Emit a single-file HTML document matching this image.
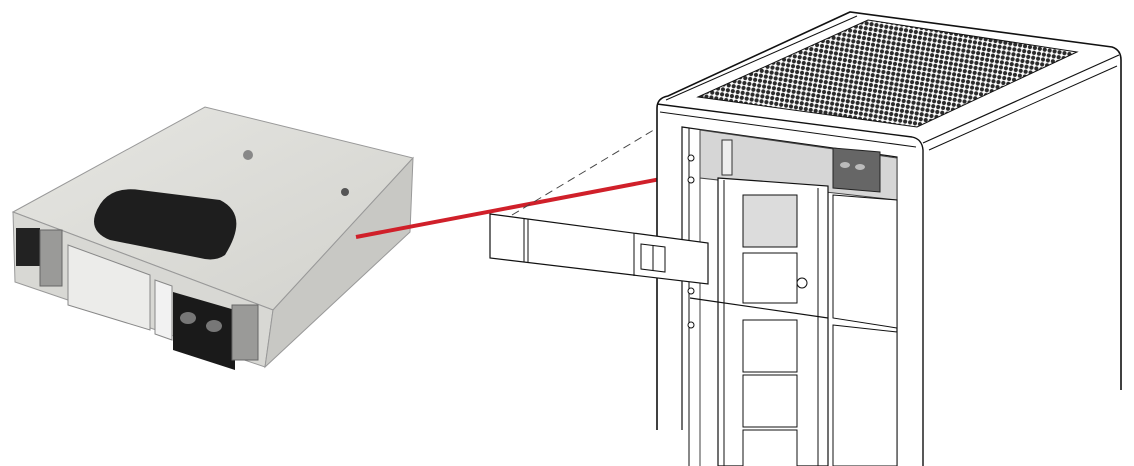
<!DOCTYPE html>
<html><head><meta charset="utf-8"><style>
html,body{margin:0;padding:0;background:#fff;width:1134px;height:466px;overflow:hidden}
</style></head><body>
<svg width="1134" height="466" viewBox="0 0 1134 466" xmlns="http://www.w3.org/2000/svg">
<defs>
<pattern id="grille" width="5" height="5" patternUnits="userSpaceOnUse" patternTransform="rotate(10)">
<rect width="5" height="5" fill="#fff"/><circle cx="2.5" cy="2.5" r="2.1" fill="#2a2a2a"/>
</pattern>
<linearGradient id="topg" x1="0" y1="0" x2="1" y2="1">
<stop offset="0" stop-color="#e6e6e2"/><stop offset="1" stop-color="#d2d2cd"/>
</linearGradient>
</defs>
<!-- LEFT DEVICE -->
<polygon points="13,212 205,107 413,158 273,310" fill="url(#topg)" stroke="#999" stroke-width="1"/>
<polygon points="13,212 273,310 265,367 15,282" fill="#d8d8d4" stroke="#999"/>
<polygon points="273,310 413,158 410,232 265,367" fill="#c8c8c4" stroke="#999"/>
<path d="M95,215 Q105,185 140,190 L220,200 Q250,215 225,255 Q215,262 200,258 L110,240 Q90,232 95,215Z" fill="#1e1e1e"/>
<rect x="16" y="228" width="24" height="38" fill="#222"/>
<rect x="40" y="230" width="22" height="56" fill="#9a9a98" stroke="#666"/>
<polygon points="68,245 150,275 150,330 68,305" fill="#ececea" stroke="#888"/>
<polygon points="155,280 172,286 172,340 155,334" fill="#f2f2f2" stroke="#888"/>
<polygon points="173,292 235,310 235,370 173,350" fill="#1a1a1a"/>
<ellipse cx="188" cy="318" rx="8" ry="6" fill="#777"/>
<ellipse cx="214" cy="326" rx="8" ry="6" fill="#777"/>
<rect x="232" y="305" width="26" height="55" fill="#9a9a98" stroke="#666"/>
<circle cx="248" cy="155" r="5" fill="#888"/>
<circle cx="345" cy="192" r="4" fill="#555"/>
<!-- red connector -->
<line x1="356" y1="237" x2="776" y2="157" stroke="#d0202a" stroke-width="4"/>
<!-- dashed line -->
<line x1="512" y1="215" x2="662" y2="125" stroke="#444" stroke-width="1" stroke-dasharray="8,5"/>
<!-- CABINET -->
<path d="M657,430 L657,108 Q657,98 668,96 L850,12 L1112,47 Q1121,50 1121,60 L1121,390" fill="#fff" stroke="#111" stroke-width="1.6"/>
<path d="M657,104 L912,137 Q922,139 923,150 L923,466" fill="none" stroke="#111" stroke-width="1.4"/>
<line x1="923" y1="143" x2="1119" y2="55" stroke="#111" stroke-width="1.2"/>
<line x1="666" y1="100" x2="857" y2="16" stroke="#111" stroke-width="1"/>
<line x1="660" y1="112" x2="916" y2="147" stroke="#111" stroke-width="1"/>
<line x1="929" y1="150" x2="1117" y2="66" stroke="#111" stroke-width="1"/>
<polygon points="698,97 868,20 1077,52 917,127" fill="url(#grille)" stroke="#111"/>
<!-- opening -->
<path d="M682,430 L682,127 L897,157 L897,466" fill="none" stroke="#111" stroke-width="1.2"/>
<line x1="689" y1="128" x2="689" y2="466" stroke="#111" stroke-width="1"/>
<line x1="700" y1="130" x2="700" y2="466" stroke="#111" stroke-width="0.8"/>
<polygon points="700,130 897,158 897,200 700,178" fill="#d6d6d6" stroke="#444"/>
<polygon points="833,148 880,152 880,192 833,188" fill="#666" stroke="#222"/>
<ellipse cx="845" cy="165" rx="5" ry="3" fill="#bbb"/>
<ellipse cx="860" cy="167" rx="5" ry="3" fill="#bbb"/>
<rect x="722" y="140" width="10" height="35" fill="#eee" stroke="#333"/>
<!-- door -->
<polygon points="718,178 828,186 828,466 718,466" fill="#fff" stroke="#111" stroke-width="1.2"/>
<line x1="724" y1="180" x2="724" y2="466" stroke="#111"/>
<line x1="818" y1="188" x2="818" y2="466" stroke="#111"/>
<rect x="743" y="195" width="54" height="52" fill="#dcdcdc" stroke="#111"/>
<rect x="743" y="253" width="54" height="50" fill="#fff" stroke="#111"/>
<circle cx="802" cy="283" r="5" fill="#fff" stroke="#111"/>
<line x1="690" y1="298" x2="828" y2="318" stroke="#111" stroke-width="1.2"/>
<rect x="743" y="320" width="54" height="52" fill="#fff" stroke="#111"/>
<rect x="743" y="375" width="54" height="52" fill="#fff" stroke="#111"/>
<rect x="743" y="430" width="54" height="40" fill="#fff" stroke="#111"/>
<!-- right panels -->
<polygon points="833,195 897,200 897,328 833,318" fill="#fff" stroke="#111"/>
<polygon points="833,325 897,332 897,466 833,466" fill="#fff" stroke="#111"/>
<circle cx="691" cy="158" r="3" fill="#fff" stroke="#111"/>
<circle cx="691" cy="180" r="3" fill="#fff" stroke="#111"/>
<circle cx="691" cy="291" r="3" fill="#fff" stroke="#111"/>
<circle cx="691" cy="325" r="3" fill="#fff" stroke="#111"/>
<!-- bezel bar -->
<polygon points="490,214 708,243 708,284 490,258" fill="#fff" stroke="#111" stroke-width="1.2"/>
<line x1="524" y1="218" x2="524" y2="262" stroke="#111"/>
<line x1="528" y1="219" x2="528" y2="262" stroke="#111"/>
<line x1="634" y1="233" x2="634" y2="276" stroke="#111"/>
<polygon points="641,244 665,247 665,272 641,269" fill="#fff" stroke="#111"/>
<line x1="653" y1="246" x2="653" y2="271" stroke="#111"/>
</svg>
</body></html>
